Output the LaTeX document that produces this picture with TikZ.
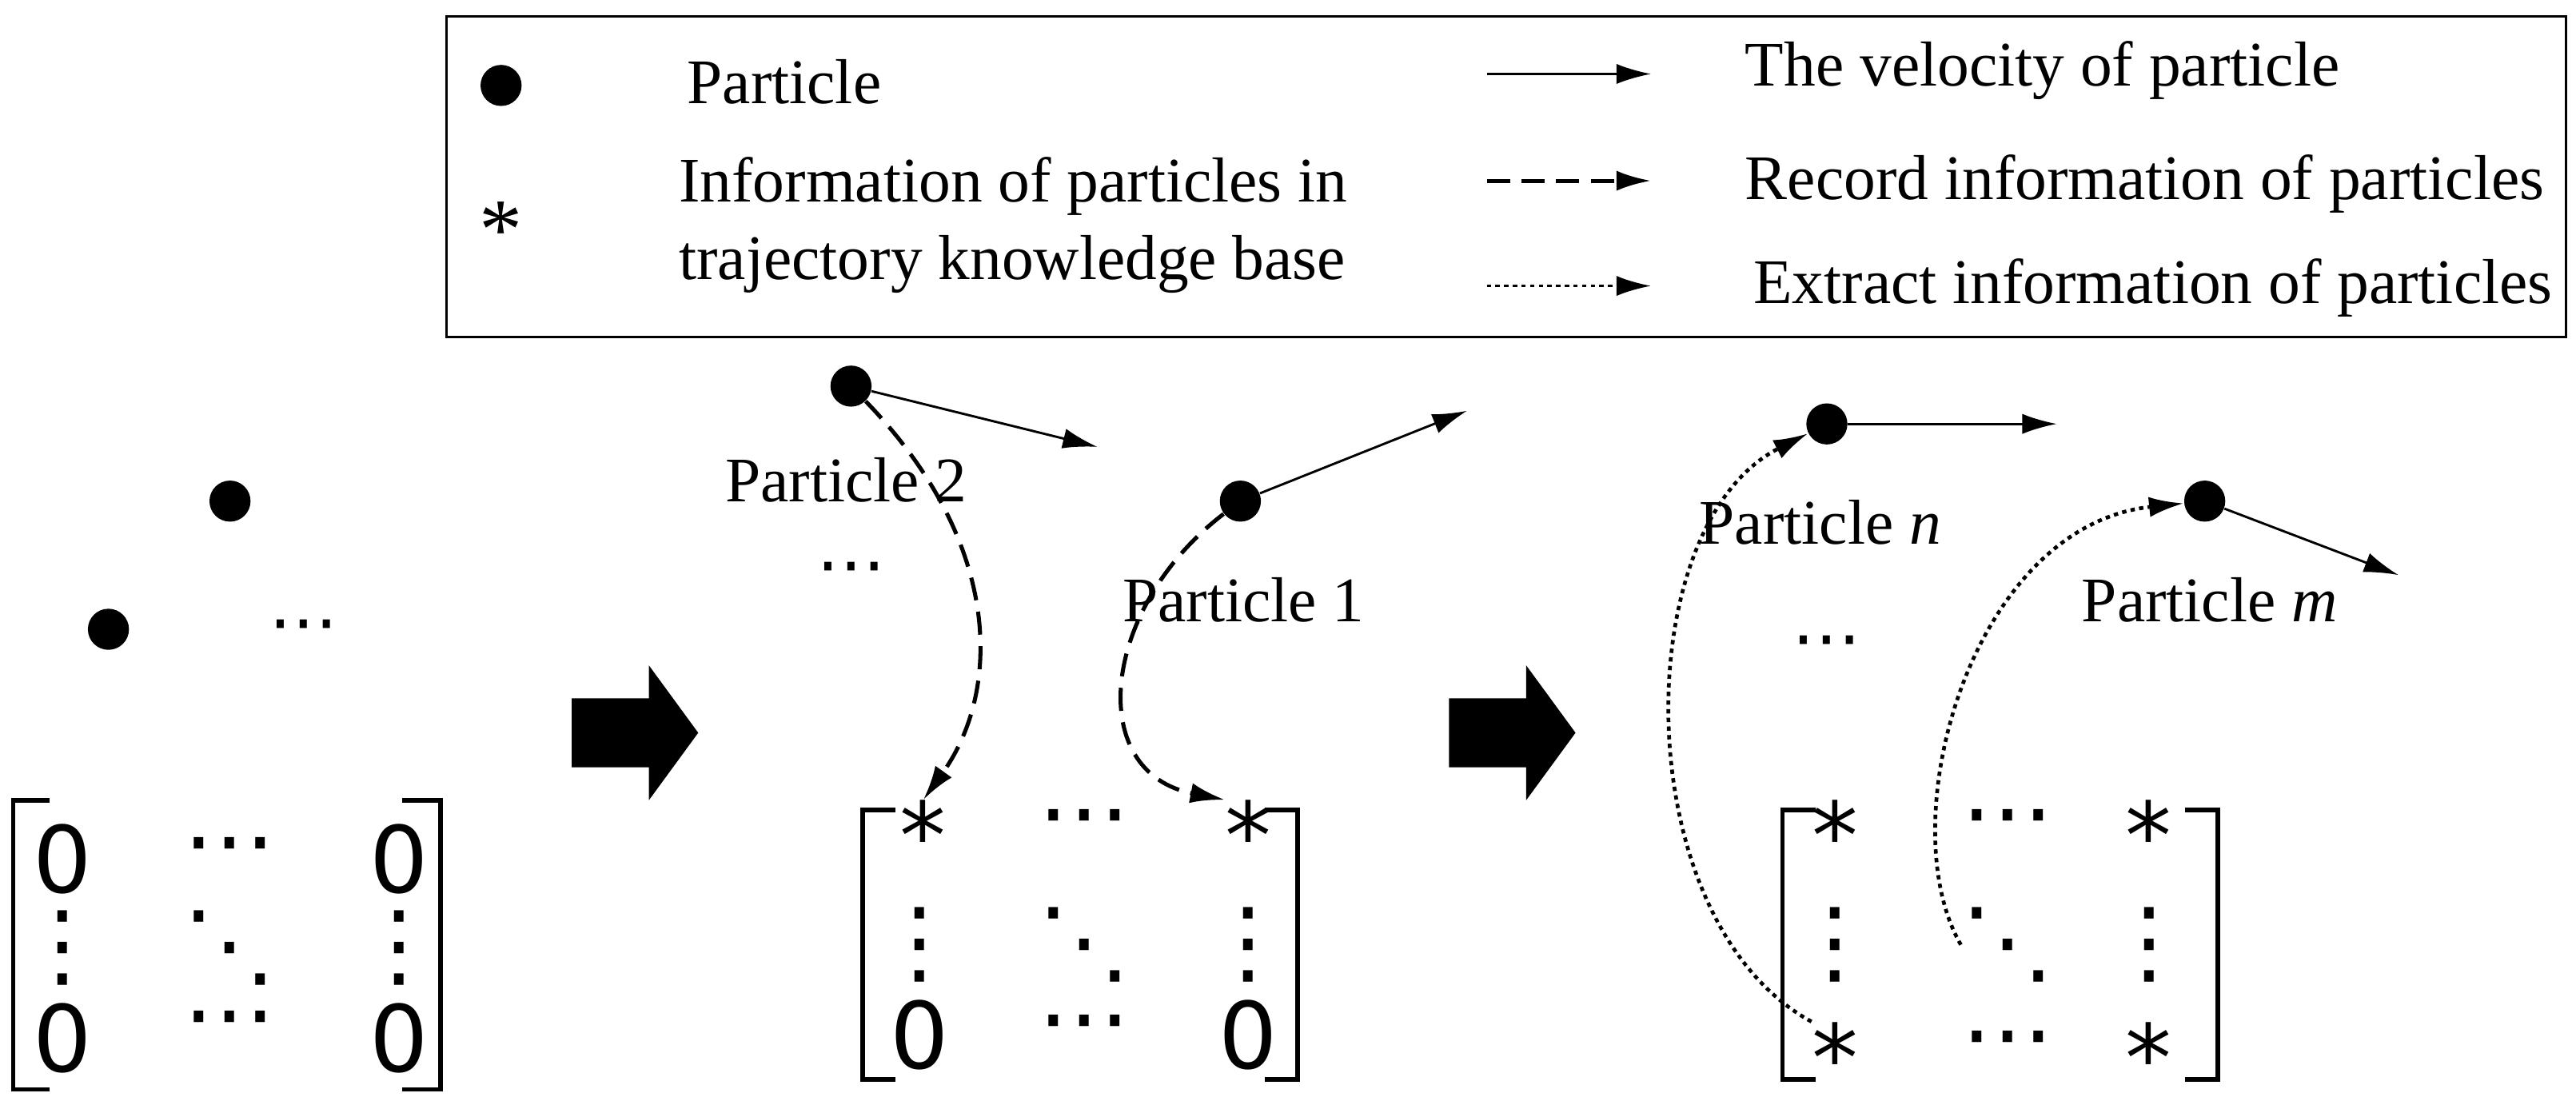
\documentclass[tikz,border=0pt]{standalone}
\usepackage{fontspec}
\setmainfont{Liberation Serif}
\newfontfamily\msf{DejaVu Sans}
\usetikzlibrary{arrows.meta}
\begin{document}
\begin{tikzpicture}[x=0.02cm,y=-0.02cm,
 dot/.style={circle,fill=black,inner sep=0pt,minimum size=25*0.02cm},
 lbl/.style={font=\fontsize{22}{27}\selectfont,inner sep=0pt},
 ent/.style={font=\fontsize{32}{34}\selectfont\msf,inner sep=0pt},
 dts/.style={font=\fontsize{24}{24}\selectfont\msf,inner sep=0pt},
 vel/.style={-{Latex[length=12pt,width=7pt]},line width=0.8pt},
 rec/.style={-{Latex[length=12pt,width=7pt]},line width=1.4pt,dash pattern=on 8pt off 4pt},
 ext/.style={-{Latex[length=12pt,width=7pt]},line width=1.3pt,dash pattern=on 1.5pt off 1.5pt},
 brk/.style={line width=1.6pt}]
\useasboundingbox (0,0) rectangle (1568,677);
% legend
\draw[line width=0.8pt] (272,10) rectangle (1562,205);
\node[dot] (ld) at (305,52) {};
\node[lbl,anchor=west] (lt1) at (418,50) {Particle};
\node[font=\fontsize{30}{30}\selectfont,inner sep=0pt] (ls) at (305,140) {*};
\node[lbl,anchor=west,align=left] (lt2) at (413,137) {Information of particles in\\trajectory knowledge base};
\coordinate (a1s) at (905,45); \coordinate (a1e) at (1005,45);
\coordinate (a2s) at (905,110); \coordinate (a2e) at (1005,110);
\coordinate (a3s) at (905,174); \coordinate (a3e) at (1005,174);
\draw[vel] (a1s)--(a1e);
\draw[rec] (a2s)--(a2e);
\draw[ext,line width=1pt] (a3s)--(a3e);
\node[lbl,anchor=west] (lt3) at (1062,43) {The velocity of particle};
\node[lbl,anchor=west] (lt4) at (1062,112) {Record information of particles};
\node[lbl,anchor=west] (lt5) at (1067,175) {Extract information of particles};
% panel 1
\node[dot] (p1a) at (140,305) {};
\node[dot] (p1b) at (66,383) {};
\node[dts] (p1c) at (185,385) {⋯};
\draw[brk] (30,487)--(8,487)--(8,663)--(30,663);
\draw[brk] (245,487)--(268,487)--(268,663)--(245,663);
\node[ent] (m1a) at (38,523) {0};
\node[ent] (m1b) at (140,520) {⋯};
\node[ent] (m1c) at (243,523) {0};
\node[ent] (m1d) at (38,577) {⋮};
\node[ent] (m1e) at (140,577) {⋱};
\node[ent] (m1f) at (243,577) {⋮};
\node[ent] (m1g) at (38,632) {0};
\node[ent] (m1h) at (140,626) {⋯};
\node[ent] (m1i) at (243,632) {0};
% block arrows
\foreach \x in {348,882}{
 \fill (\x,425)--(\x+47,425)--(\x+47,405)--(\x+77,446)--(\x+47,487)--(\x+47,467)--(\x,467)--cycle;}
% panel 2
\node[dot] (p2) at (518,235) {};
\coordinate (v2) at (668,272);
\draw[vel] (p2)--(v2);
\node[lbl] (t2) at (515,292) {Particle 2};
\node[dot] (p1) at (755,305) {};
\coordinate (v1) at (893,250);
\draw[vel] (p1)--(v1);
\node[lbl] (t1) at (757,365) {Particle 1};
\node[dts] (d2) at (518,350) {⋯};
\draw[brk] (545,493)--(525,493)--(525,657)--(545,657);
\draw[brk] (770,493)--(790,493)--(790,657)--(770,657);
\node[ent] (m2a) at (562,508) {*};
\node[ent] (m2b) at (660,503) {⋯};
\node[ent] (m2c) at (760,508) {*};
\node[ent] (m2d) at (560,575) {⋮};
\node[ent] (m2e) at (660,575) {⋱};
\node[ent] (m2f) at (760,575) {⋮};
\node[ent] (m2g) at (560,630) {0};
\node[ent] (m2h) at (660,628) {⋯};
\node[ent] (m2i) at (760,630) {0};
\draw[rec] (p2) .. controls (610,330) and (610,420) .. (m2a.north);
\draw[rec] (p1) .. controls (670,370) and (660,470) .. (m2c.north west);
% panel 3
\node[dot] (pn) at (1112,258) {};
\coordinate (vn) at (1252,258);
\draw[vel] (pn)--(vn);
\node[lbl] (tn) at (1108,318) {Particle \textit{n}};
\node[dot] (pm) at (1342,305) {};
\coordinate (vm) at (1460,350);
\draw[vel] (pm)--(vm);
\node[lbl] (tm) at (1345,365) {Particle \textit{m}};
\node[dts] (d3) at (1112,395) {⋯};
\draw[brk] (1105,493)--(1085,493)--(1085,657)--(1105,657);
\draw[brk] (1330,493)--(1350,493)--(1350,657)--(1330,657);
\node[ent] (m3a) at (1117,508) {*};
\node[ent] (m3b) at (1222,503) {⋯};
\node[ent] (m3c) at (1308,508) {*};
\node[ent] (m3d) at (1117,575) {⋮};
\node[ent] (m3e) at (1222,575) {⋱};
\node[ent] (m3f) at (1308,575) {⋮};
\node[ent] (m3g) at (1117,643) {*};
\node[ent] (m3h) at (1222,638) {⋯};
\node[ent] (m3i) at (1308,643) {*};
\draw[ext] (m3g.north west) .. controls (990,560) and (990,320) .. (pn);
\draw[ext] (m3e.west) .. controls (1150,500) and (1200,320) .. (pm);
\end{tikzpicture}
\end{document}
